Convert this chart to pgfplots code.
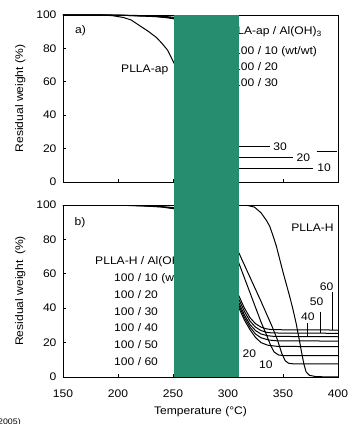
\documentclass[border=0pt]{standalone}
\usepackage{fontspec}
\setmainfont{Liberation Sans}[FakeStretch=1.1]
\usepackage{pgfplots}
\pgfplotsset{compat=1.18}
\definecolor{occl}{RGB}{38,141,111}
\tikzset{lbl/.style={font=\fontsize{11}{12}\selectfont, inner sep=0pt}}
\pgfplotsset{
  common/.style={
    scale only axis, width=275pt, xmin=150, xmax=400, ymin=0, ymax=100,
    xtick={150,200,...,400}, ytick={0,20,...,100},
    tick align=inside, xtick pos=bottom, ytick pos=left,
    major tick length=3pt,
    axis line style={line width=0.8pt},
    every tick/.style={black, line width=0.7pt},
    tick label style={font=\fontsize{11}{12}\selectfont},
    /pgf/number format/assume math mode=true,
    label style={font=\fontsize{11}{12}\selectfont},
    ylabel style={at={(axis description cs:-0.155,0.5)}, anchor=center},
    yticklabel style={xshift=-3pt},
    cycle list={{black,solid}},
    every axis plot/.append style={line width=1pt, no markers},
  },
}
\begin{document}
\begin{tikzpicture}
\path[use as bounding box] (0pt,0pt) rectangle (356pt,424pt);
% ---------- panel a ----------
\begin{axis}[common, at={(63pt,242pt)}, anchor=south west, height=167pt,
  xticklabels={}, ylabel={Residual weight (\%)}]
\addplot coordinates {(150,100) (185,100) (195,99.6) (205,98.5) (212,97) (220,93.5) (228,90) (235,86.5) (240,83) (245,79) (250,72.5) (255,66) (260,58)};
\addplot coordinates {(150,100) (195,100) (225,99.6) (245,99) (251,98.6) (262,97.8)};
\addplot coordinates {(150,100) (200,99.9) (230,99.3) (245,98.6) (251,98.1) (262,97.2)};
\addplot coordinates {(150,100) (205,99.8) (235,99) (245,98.3) (251,97.7) (262,96.6)};
\addplot coordinates {(305,21.1) (338.2,21.1)};
\addplot coordinates {(305,14.8) (359.4,14.8)};
\addplot coordinates {(380.6,18.1) (398.8,18.1)};
\addplot coordinates {(305,8.2) (377.5,8.2)};
\node[lbl] at (axis cs:166,90.4) {a)};
\node[lbl] at (axis cs:224.3,67) {PLLA-ap};
\node[lbl, anchor=east] at (axis cs:385.5,89.8) {PLLA-ap / Al(OH)\textsubscript{3}};
\node[lbl, anchor=west] at (axis cs:305.5,78) {100 / 10 (wt/wt)};
\node[lbl, anchor=west] at (axis cs:305.5,69) {100 / 20};
\node[lbl, anchor=west] at (axis cs:305.5,59.4) {100 / 30};
\node[lbl] at (axis cs:347.3,21.1) {30};
\node[lbl] at (axis cs:368.5,14.7) {20};
\node[lbl] at (axis cs:387.3,8.7) {10};
\end{axis}
% ---------- panel b ----------
\begin{axis}[common, at={(63pt,47pt)}, anchor=south west, height=172pt,
  ylabel={Residual weight\enspace(\%)}, xlabel={Temperature (°C)},
  xticklabel style={yshift=-9pt},
  xlabel style={at={(axis description cs:0.5,0)}, yshift=-35pt, anchor=center}]
\addplot coordinates {(150,100) (190,100) (215,99.8) (235,99.3) (251,98.5) (262,97.5)};
\addplot coordinates {(150,100) (195,100) (220,99.6) (240,99) (251,98) (262,97)};
\addplot coordinates {(150,100) (200,99.9) (225,99.4) (240,98.8) (251,97.8) (262,96.5)};
% PLLA-H
\addplot coordinates {(150,100) (310,100) (318,99.7) (324,98.8) (330,95.5) (335,91) (338,87.5) (341,82) (344,76) (347,68.5) (350,61) (353,54) (356,47) (359,39.5) (362,31) (365,21) (367,14) (369,7.5) (371,3) (374,1) (380,0.2) (400,0)};
% steep composites
\addplot coordinates {(305,79) (310,72) (320,58) (330,44) (340,29.5) (345,21.5) (349,13.5) (352,9.5) (355,8) (360,7.6) (400,7.6)};
\addplot coordinates {(305,74) (310,66) (315,57.5) (320,49) (325,40.5) (330,32) (335,24.5) (339,18) (342,14.5) (346,12.8) (350,12.5) (400,12.4)};
% bundle
\addplot coordinates {(305,55) (310,47) (315,40) (320,34.5) (325,31) (330,29) (335,28) (340,27.5) (400,27.3)};
\addplot coordinates {(305,53) (310,45) (315,38) (320,32.5) (325,29) (330,27) (335,26) (340,25.6) (400,25.4)};
\addplot coordinates {(305,51) (310,43) (315,36) (320,30.5) (325,27) (330,25) (336,24) (342,23.6) (400,23.4)};
\addplot coordinates {(305,49) (310,41.5) (315,34.5) (320,29) (325,25) (330,22.8) (337,21.5) (345,21) (400,20.9)};
\addplot coordinates {(305,47) (310,40) (315,33) (320,27.5) (325,23) (330,20) (336,18.5) (345,17.8) (400,17.6)};
% label leaders
\addplot coordinates {(394.8,49.5) (394.8,27.3)};
\addplot coordinates {(384.2,38) (384.2,25.4)};
\addplot coordinates {(372.1,31.2) (372.1,23.4)};
\node[lbl] at (axis cs:165.5,90) {b)};
\node[lbl] at (axis cs:376.8,86.6) {PLLA-H};
\node[lbl, anchor=west] at (axis cs:179.1,67) {PLLA-H / Al(OH)\textsubscript{3}};
\node[lbl, anchor=west] at (axis cs:196.4,57.4) {100 / 10 (wt/wt)};
\node[lbl, anchor=west] at (axis cs:196.4,48.1) {100 / 20};
\node[lbl, anchor=west] at (axis cs:196.4,38.0) {100 / 30};
\node[lbl, anchor=west] at (axis cs:196.4,28.7) {100 / 40};
\node[lbl, anchor=west] at (axis cs:196.4,19.0) {100 / 50};
\node[lbl, anchor=west] at (axis cs:196.4,8.9) {100 / 60};
\node[lbl] at (axis cs:389.7,52.3) {60};
\node[lbl] at (axis cs:380.6,43.6) {50};
\node[lbl] at (axis cs:372.7,35) {40};
\node[lbl] at (axis cs:319.4,13.8) {20};
\node[lbl] at (axis cs:334.5,7) {10};
\end{axis}
\fill[occl] (174pt,47pt) rectangle (239pt,409pt);
\node[font=\fontsize{8}{9}\selectfont, anchor=west, inner sep=0pt] at (-2pt,2pt) {2005)};
\end{tikzpicture}
\end{document}
